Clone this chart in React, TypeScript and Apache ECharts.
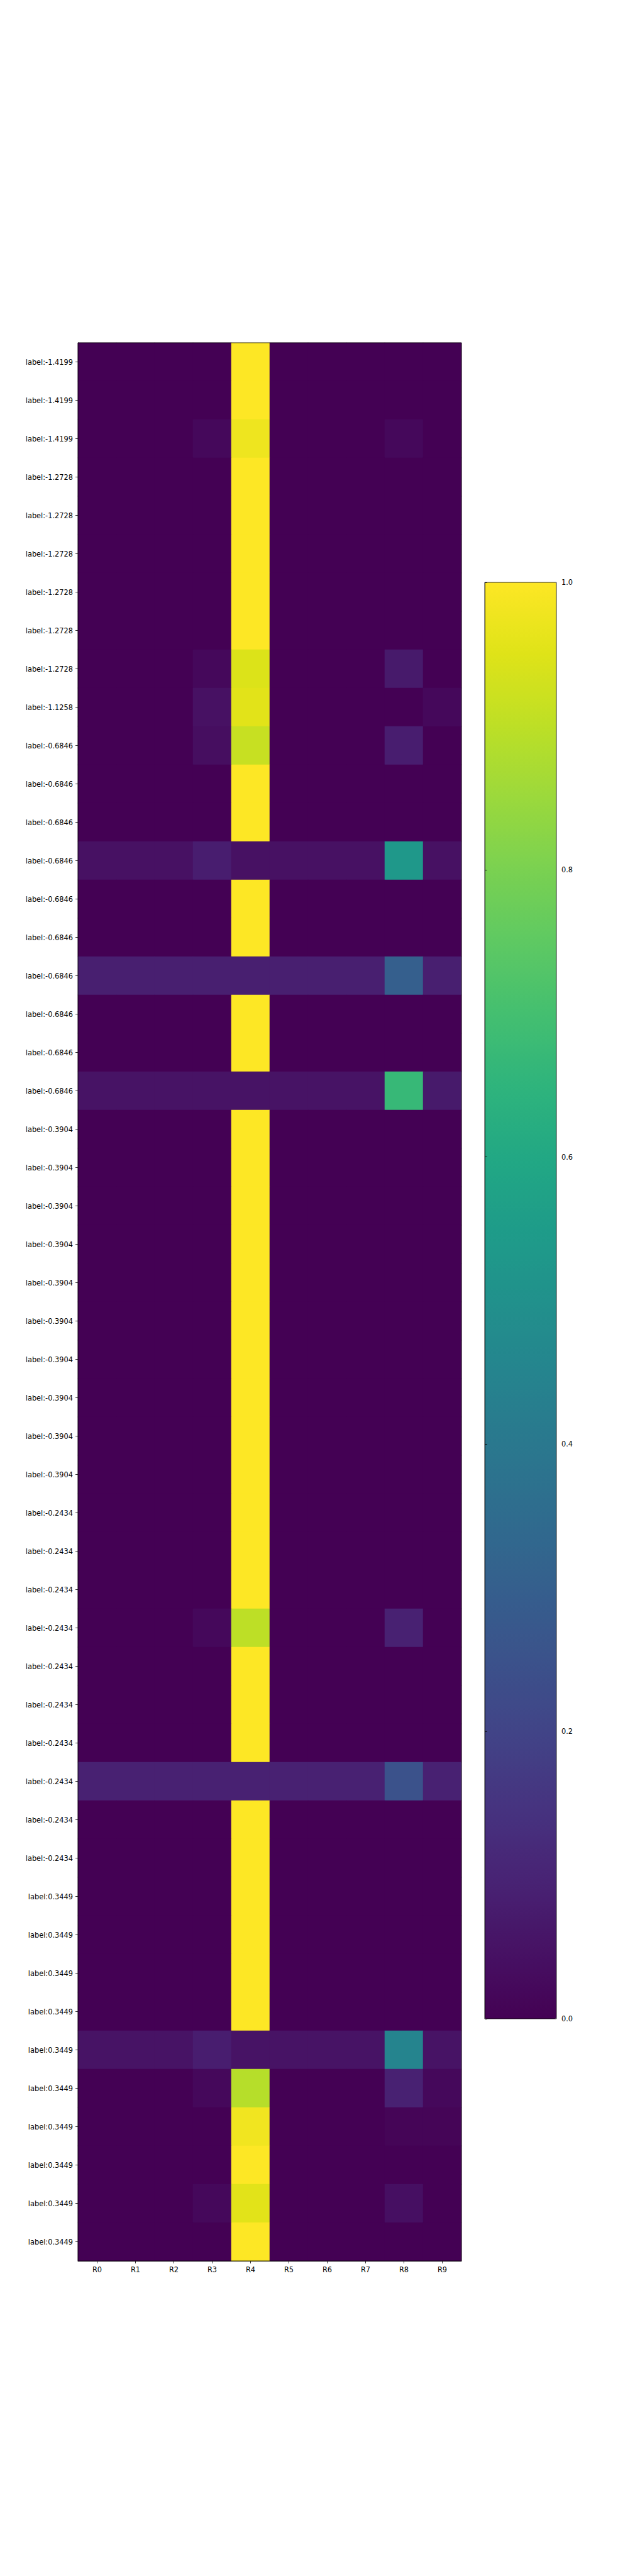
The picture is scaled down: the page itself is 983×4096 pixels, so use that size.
import React, { useEffect, useRef } from "react";
import * as echarts from "echarts";

const colLabels = ["R0", "R1", "R2", "R3", "R4", "R5", "R6", "R7", "R8", "R9"];

const rowLabels = [
  "label:-1.4199", "label:-1.4199", "label:-1.4199",
  "label:-1.2728", "label:-1.2728", "label:-1.2728", "label:-1.2728", "label:-1.2728", "label:-1.2728",
  "label:-1.1258",
  "label:-0.6846", "label:-0.6846", "label:-0.6846", "label:-0.6846", "label:-0.6846",
  "label:-0.6846", "label:-0.6846", "label:-0.6846", "label:-0.6846", "label:-0.6846",
  "label:-0.3904", "label:-0.3904", "label:-0.3904", "label:-0.3904", "label:-0.3904",
  "label:-0.3904", "label:-0.3904", "label:-0.3904", "label:-0.3904", "label:-0.3904",
  "label:-0.2434", "label:-0.2434", "label:-0.2434", "label:-0.2434", "label:-0.2434",
  "label:-0.2434", "label:-0.2434", "label:-0.2434", "label:-0.2434", "label:-0.2434",
  "label:0.3449", "label:0.3449", "label:0.3449", "label:0.3449", "label:0.3449",
  "label:0.3449", "label:0.3449", "label:0.3449", "label:0.3449", "label:0.3449",
];

const cellValues: number[][] = [
  [0, 0, 0, 0, 1, 0, 0, 0, 0, 0],
  [0, 0, 0, 0, 1, 0, 0, 0, 0, 0],
  [0, 0, 0, 0.02, 0.975, 0, 0, 0, 0.02, 0],
  [0, 0, 0, 0, 1, 0, 0, 0, 0, 0],
  [0, 0, 0, 0, 1, 0, 0, 0, 0, 0],
  [0, 0, 0, 0, 1, 0, 0, 0, 0, 0],
  [0, 0, 0, 0, 1, 0, 0, 0, 0, 0],
  [0, 0, 0, 0, 1, 0, 0, 0, 0, 0],
  [0, 0, 0, 0.02, 0.945, 0, 0, 0, 0.07, 0],
  [0, 0, 0, 0.045, 0.955, 0, 0, 0, 0, 0.02],
  [0, 0, 0, 0.035, 0.915, 0, 0, 0, 0.08, 0],
  [0, 0, 0, 0, 1, 0, 0, 0, 0, 0],
  [0, 0, 0, 0, 1, 0, 0, 0, 0, 0],
  [0.045, 0.045, 0.045, 0.08, 0.045, 0.045, 0.045, 0.045, 0.53, 0.045],
  [0, 0, 0, 0, 1, 0, 0, 0, 0, 0],
  [0, 0, 0, 0, 1, 0, 0, 0, 0, 0],
  [0.085, 0.085, 0.085, 0.085, 0.085, 0.085, 0.085, 0.085, 0.3, 0.085],
  [0, 0, 0, 0, 1, 0, 0, 0, 0, 0],
  [0, 0, 0, 0, 1, 0, 0, 0, 0, 0],
  [0.05, 0.05, 0.05, 0.05, 0.05, 0.05, 0.05, 0.05, 0.67, 0.07],
  [0, 0, 0, 0, 1, 0, 0, 0, 0, 0],
  [0, 0, 0, 0, 1, 0, 0, 0, 0, 0],
  [0, 0, 0, 0, 1, 0, 0, 0, 0, 0],
  [0, 0, 0, 0, 1, 0, 0, 0, 0, 0],
  [0, 0, 0, 0, 1, 0, 0, 0, 0, 0],
  [0, 0, 0, 0, 1, 0, 0, 0, 0, 0],
  [0, 0, 0, 0, 1, 0, 0, 0, 0, 0],
  [0, 0, 0, 0, 1, 0, 0, 0, 0, 0],
  [0, 0, 0, 0, 1, 0, 0, 0, 0, 0],
  [0, 0, 0, 0, 1, 0, 0, 0, 0, 0],
  [0, 0, 0, 0, 1, 0, 0, 0, 0, 0],
  [0, 0, 0, 0, 1, 0, 0, 0, 0, 0],
  [0, 0, 0, 0, 1, 0, 0, 0, 0, 0],
  [0, 0, 0, 0.02, 0.9, 0, 0, 0, 0.09, 0],
  [0, 0, 0, 0, 1, 0, 0, 0, 0, 0],
  [0, 0, 0, 0, 1, 0, 0, 0, 0, 0],
  [0, 0, 0, 0, 1, 0, 0, 0, 0, 0],
  [0.09, 0.09, 0.09, 0.09, 0.09, 0.09, 0.09, 0.09, 0.25, 0.09],
  [0, 0, 0, 0, 1, 0, 0, 0, 0, 0],
  [0, 0, 0, 0, 1, 0, 0, 0, 0, 0],
  [0, 0, 0, 0, 1, 0, 0, 0, 0, 0],
  [0, 0, 0, 0, 1, 0, 0, 0, 0, 0],
  [0, 0, 0, 0, 1, 0, 0, 0, 0, 0],
  [0, 0, 0, 0, 1, 0, 0, 0, 0, 0],
  [0.05, 0.05, 0.05, 0.08, 0.05, 0.05, 0.05, 0.05, 0.45, 0.05],
  [0, 0, 0, 0.02, 0.89, 0, 0, 0, 0.09, 0.02],
  [0, 0, 0, 0, 0.98, 0, 0, 0, 0.01, 0.01],
  [0, 0, 0, 0, 1, 0, 0, 0, 0, 0],
  [0, 0, 0, 0.02, 0.955, 0, 0, 0, 0.04, 0],
  [0, 0, 0, 0, 1, 0, 0, 0, 0, 0],
];

const viridis = [
  "#440154", "#471365", "#482475", "#463480", "#414487", "#3b528b", "#355f8d",
  "#2f6c8e", "#2a788e", "#25848e", "#21918c", "#1e9c89", "#22a884", "#2fb47c",
  "#44bf70", "#5ec962", "#7ad151", "#9bd93c", "#bddf26", "#dfe318", "#fde725",
];

const S = 0.819;
const FONT = "DejaVu Sans";
const FS = 13.9 * S;

export default function App() {
  const ref = useRef<HTMLDivElement>(null);
  useEffect(() => {
    if (!ref.current) return;
    const chart = echarts.init(ref.current, undefined, { renderer: "svg" });
    const data: number[][] = [];
    cellValues.forEach((row, y) => row.forEach((v, x) => data.push([x, y, v])));

    // whole-pixel cell sizes so adjacent cells meet without seams
    const main = { left: 124, top: 545, width: 610, height: 3050 };
    const cb = { left: 771, top: 926, width: 114, height: 2284 };
    const lineStyle = { color: "#000", width: 0.8 };
    const labelStyle = { color: "#000", fontSize: FS, fontFamily: FONT };

    chart.setOption({
      animation: false,
      backgroundColor: "#fff",
      textStyle: { fontFamily: FONT },
      grid: [
        { ...main, show: true, borderColor: "#000", borderWidth: 0.8, z: 5, backgroundColor: "transparent" },
        { ...cb, show: true, borderColor: "#000", borderWidth: 0.8, z: 10, backgroundColor: "transparent" },
      ],
      xAxis: [
        {
          type: "category",
          gridIndex: 0,
          data: colLabels,
          position: "bottom",
          axisLine: { show: true, lineStyle },
          axisTick: { show: true, alignWithLabel: true, length: 4, lineStyle },
          axisLabel: { ...labelStyle, margin: 8 },
          splitLine: { show: false },
        },
        { type: "value", gridIndex: 1, show: false, min: 0, max: 1 },
      ],
      yAxis: [
        {
          type: "category",
          gridIndex: 0,
          inverse: true,
          data: rowLabels.map((_, i) => String(i)),
          axisLine: { show: true, lineStyle },
          axisTick: { show: true, alignWithLabel: true, length: 4, lineStyle },
          axisLabel: {
            ...labelStyle,
            margin: 8,
            interval: 0,
            formatter: (v: string) => rowLabels[Number(v)],
          },
          splitLine: { show: false },
        },
        {
          type: "value",
          gridIndex: 1,
          position: "right",
          min: 0,
          max: 1,
          interval: 0.2,
          z: 10,
          axisLine: { show: true, lineStyle },
          axisTick: { show: true, length: 4, lineStyle },
          axisLabel: { ...labelStyle, margin: 8, formatter: (v: number) => v.toFixed(1) },
          splitLine: { show: false },
        },
      ],
      visualMap: {
        type: "continuous",
        min: 0,
        max: 1,
        seriesIndex: 0,
        calculable: false,
        orient: "vertical",
        left: cb.left,
        top: cb.top,
        itemWidth: cb.width,
        itemHeight: cb.height,
        padding: 0,
        text: null,
        showLabel: false,
        hoverLink: false,
        inRange: { color: viridis },
      },
      series: [
        {
          type: "heatmap",
          xAxisIndex: 0,
          yAxisIndex: 0,
          data,
          itemStyle: { borderWidth: 0 },
          emphasis: { disabled: true },
        },
      ],
    });
    return () => chart.dispose();
  }, []);
  return (
    <div
      ref={ref}
      style={{ position: "absolute", left: 0, top: 0, width: 983, height: 4096, background: "#fff" }}
    />
  );
}
